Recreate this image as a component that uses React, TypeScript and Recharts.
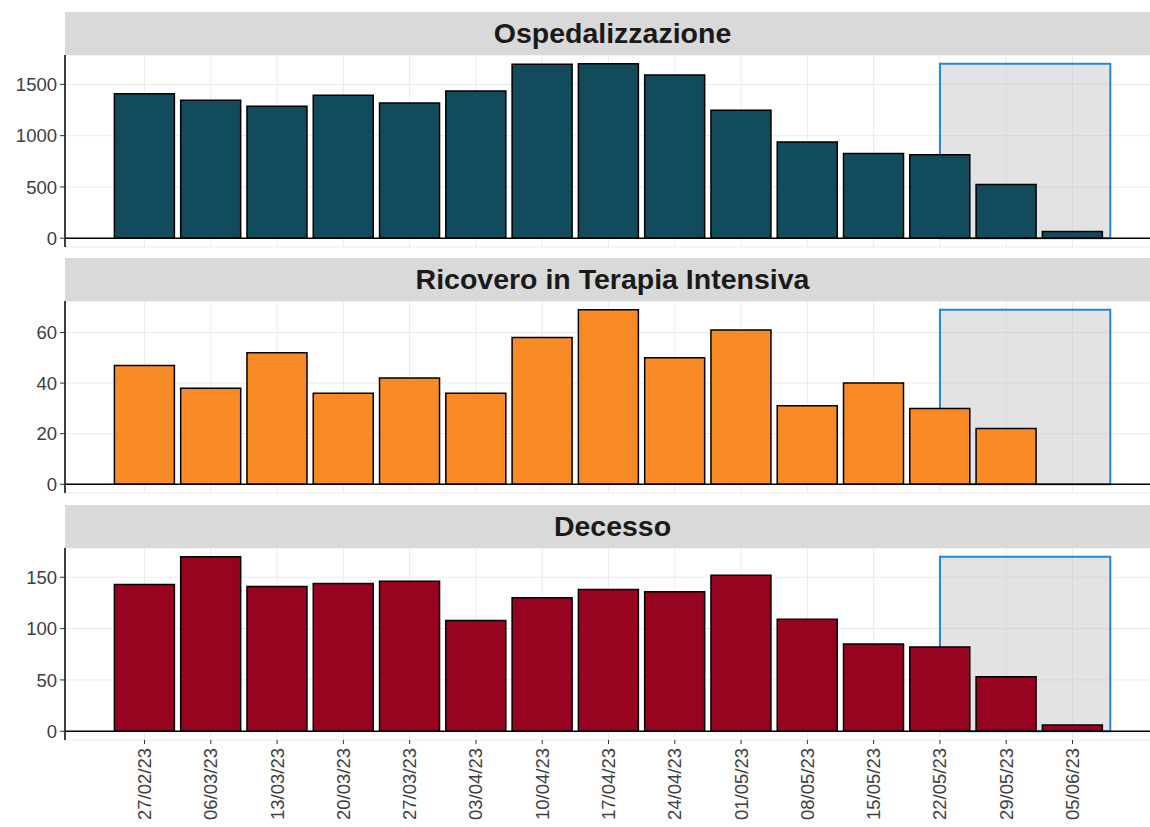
import React from 'react';
import { BarChart, Bar, XAxis, YAxis, CartesianGrid, ReferenceArea, ReferenceLine } from 'recharts';

const dates = ['27/02/23','06/03/23','13/03/23','20/03/23','27/03/23','03/04/23','10/04/23','17/04/23','24/04/23','01/05/23','08/05/23','15/05/23','22/05/23','29/05/23','05/06/23'];
const ospedalizzazione = [1409,1344,1286,1393,1318,1435,1697,1701,1590,1247,939,826,813,525,65];
const terapiaIntensiva: (number | null)[] = [47,38,52,36,42,36,58,69,50,61,31,40,30,22,null];
const decesso = [143,170,141,144,146,108,130,138,136,152,109,85,82,53,6];

const ospTicks = [0,500,1000,1500];
const tiTicks = [0,20,40,60];
const decTicks = [0,50,100,150];

const highlightStart = 12;
const highlightEnd = 14.57;

const FONT = '"Liberation Sans", Arial, sans-serif';
const X_DOMAIN: [number, number] = [-1.2, 15.32];
const CHART_W = 1160;
const PLOT_H = 192;
const STRIP_H = 43;

type PanelProps = {
  title: string;
  values: (number | null)[];
  ticks: number[];
  color: string;
  top: number;
  showX: boolean;
};

const XTick = (props: any) => {
  const { x, y, payload } = props;
  return (
    <g transform={`translate(${x},${y})`}>
      <text transform="rotate(-90)" x={-2} y={0} dy="0.35em" textAnchor="end" fontSize={18.5} fill="#404040" fontFamily={FONT}>
        {dates[payload.value]}
      </text>
    </g>
  );
};

const Panel = ({ title, values, ticks, color, top, showX }: PanelProps) => {
  const data = dates.map((d, i) => ({ idx: i, label: d, value: values[i] }));
  const max = Math.max(...(values.filter((v) => v !== null) as number[]));
  const xTicks = dates.map((_, i) => i);
  const bottomPad = showX ? 0 : 8;
  const chartH = PLOT_H + (showX ? 90 : 0) + bottomPad;
  return (
    <>
      <div
        style={{
          position: 'absolute',
          left: 65,
          top: top - STRIP_H,
          width: CHART_W - 65,
          height: STRIP_H,
          background: '#d9d9d9',
          display: 'flex',
          alignItems: 'center',
          justifyContent: 'center',
          fontFamily: FONT,
          fontWeight: 'bold',
          fontSize: 28.5,
          color: '#1a1a1a',
        }}
      >
        {title}
      </div>
      <div style={{ position: 'absolute', left: 0, top }}>
        <BarChart
          width={CHART_W}
          height={chartH}
          data={data}
          margin={{ top: 0, right: 0, bottom: bottomPad, left: 0 }}
          barSize={60}
        >
          <CartesianGrid stroke="#ebebeb" strokeWidth={1} />
          <XAxis
            dataKey="idx"
            type="number"
            domain={X_DOMAIN}
            allowDataOverflow
            ticks={xTicks}
            interval={0}
            hide={!showX}
            height={showX ? 90 : 0}
            axisLine={false}
            tickLine={{ stroke: '#333', strokeWidth: 1 }}
            tickSize={4}
            tick={<XTick />}
          />
          <YAxis
            type="number"
            width={65}
            domain={[-0.05 * max, 1.05 * max]}
            allowDataOverflow
            ticks={ticks}
            interval={0}
            axisLine={{ stroke: '#000', strokeWidth: 1.5 }}
            tickLine={{ stroke: '#333', strokeWidth: 1 }}
            tickSize={5}
            tickMargin={3}
            tick={{ fontSize: 18.5, fill: '#404040', fontFamily: FONT }}
          />
          <ReferenceArea
            x1={highlightStart}
            x2={highlightEnd}
            y1={0}
            y2={max}
            fill="#bdbdbd"
            fillOpacity={0.42}
            stroke="#1e88e5"
            strokeWidth={2}
            ifOverflow="visible"
          />
          <Bar dataKey="value" fill={color} stroke="#000" strokeWidth={1.5} isAnimationActive={false} />
          <ReferenceLine y={0} stroke="#000" strokeWidth={1.5} />
        </BarChart>
      </div>
    </>
  );
}

export default function App() {
  return (
    <div style={{ position: 'absolute', left: 0, top: 0, width: 1150, height: 827, overflow: 'hidden', background: '#fff' }}>
      <Panel title="Ospedalizzazione" values={ospedalizzazione} ticks={ospTicks} color="#124b5b" top={54.6} showX={false} />
      <Panel title="Ricovero in Terapia Intensiva" values={terapiaIntensiva} ticks={tiTicks} color="#f98b27" top={301} showX={false} />
      <Panel title="Decesso" values={decesso} ticks={decTicks} color="#98031f" top={547.5} showX={true} />
    </div>
  );
}
